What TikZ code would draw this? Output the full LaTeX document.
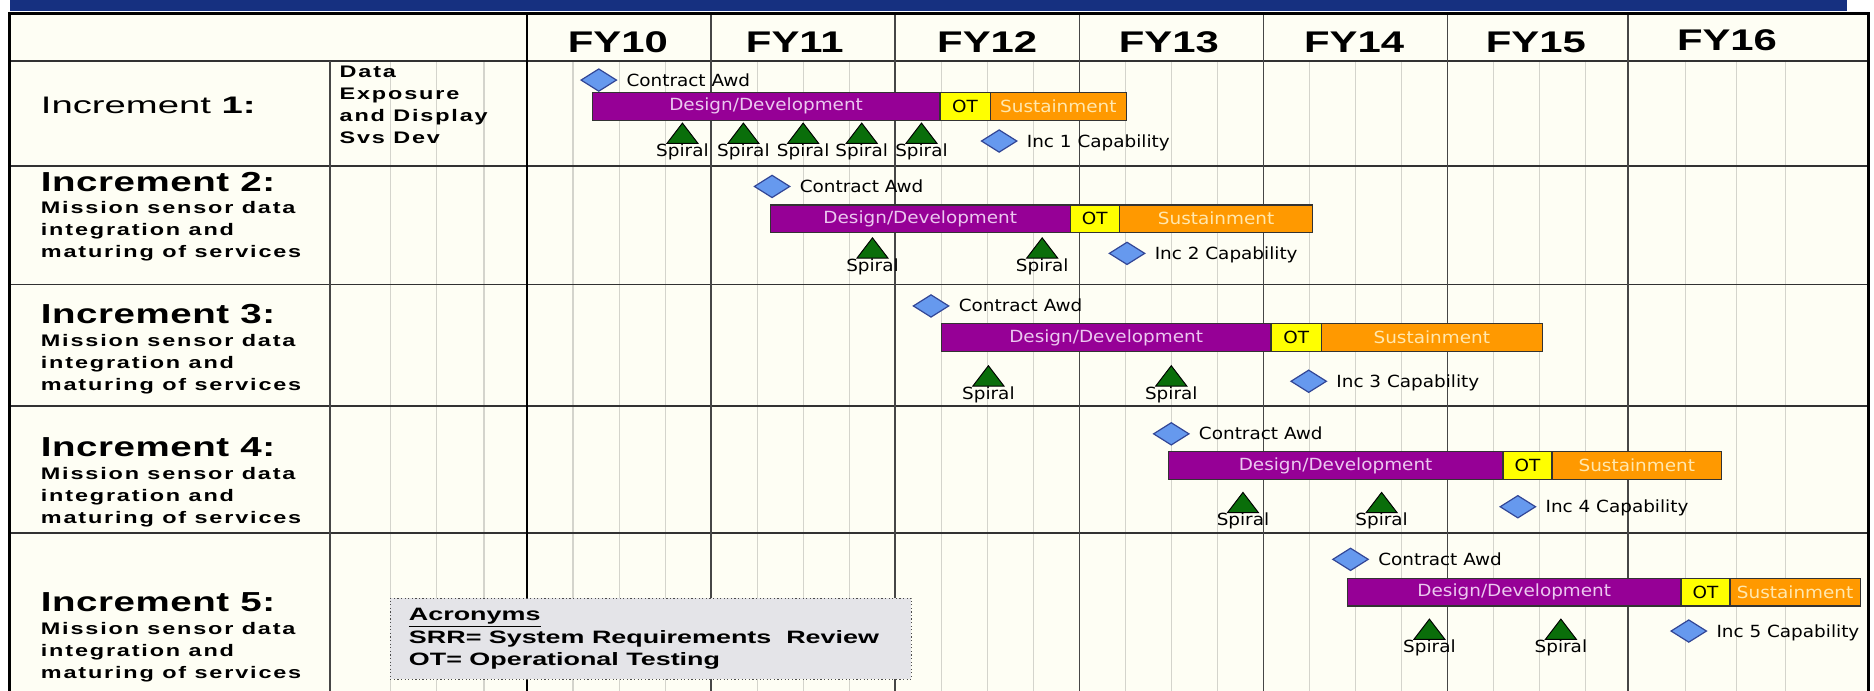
\documentclass[tikz,border=0pt]{standalone}
\usepackage{fontspec}
\usetikzlibrary{shapes.geometric}

\newfontfamily\yearfont[FakeStretch=1.4]{Liberation Sans}
\newfontfamily\incfont[FakeStretch=1.4,LetterSpace=2]{Liberation Sans}
\newfontfamily\firstfont[FakeStretch=1.6]{Liberation Sans}
\newfontfamily\descfont[FakeStretch=1.4,LetterSpace=11]{Liberation Sans}
\newfontfamily\notefont[FakeStretch=1.5]{Liberation Sans}
\newfontfamily\chartfont[FakeStretch=1.1]{DejaVu Sans}

\definecolor{band}{RGB}{22,48,128}
\definecolor{paper}{RGB}{254,254,244}
\definecolor{ddpurple}{RGB}{150,0,150}
\definecolor{ddtext}{RGB}{236,200,240}
\definecolor{otyellow}{RGB}{255,255,0}
\definecolor{sustorange}{RGB}{255,153,0}
\definecolor{susttext}{RGB}{255,232,175}
\definecolor{msblue}{RGB}{102,153,238}
\definecolor{msedge}{RGB}{50,70,150}
\definecolor{spgreen}{RGB}{10,110,10}
\definecolor{minorgrid}{RGB}{212,212,204}
\definecolor{majorgrid}{RGB}{70,70,70}
\definecolor{rowgrid}{RGB}{50,50,50}
\definecolor{notefill}{RGB}{228,228,232}

\begin{document}
\begin{tikzpicture}[x=1pt,y=-1pt,
  minor/.style={draw=minorgrid,line width=1},
  major/.style={draw=majorgrid,line width=1.2},
  rowline/.style={draw=rowgrid,line width=1.5},
  border/.style={draw=black,line width=2.5},
  yearlbl/.style={font=\yearfont\bfseries\fontsize{25}{28}\selectfont,anchor=base,inner sep=0},
  inclbl/.style={font=\incfont\bfseries\fontsize{23}{26}\selectfont,anchor=base west,inner sep=0},
  firstlbl/.style={font=\firstfont\fontsize{20}{24}\selectfont,anchor=base west,inner sep=0},
  desclbl/.style={font=\descfont\bfseries\fontsize{14}{16}\selectfont,anchor=base west,inner sep=0},
  notelbl/.style={font=\notefont\bfseries\fontsize{15}{17}\selectfont,anchor=base west,inner sep=0},
  chartlbl/.style={font=\chartfont\fontsize{14}{16}\selectfont,inner sep=0},
  milestone/.style={diamond,draw=msedge,fill=msblue,line width=1,minimum width=30,minimum height=19,inner sep=0},
  spiraltri/.style={draw=black,fill=spgreen,line width=0.8,line join=miter},
  phase/.style={draw=black!80,line width=1,minimum height=23,inner sep=0,anchor=west,
    font=\chartfont\fontsize{14}{16}\selectfont},
  ddbar/.style={phase,fill=ddpurple,text=ddtext},
  otbar/.style={phase,fill=otyellow,text=black},
  sustbar/.style={phase,fill=sustorange,text=susttext},
  notebox/.style={draw=black!70,dotted,line width=1,fill=notefill,anchor=north west,
    minimum width=436,minimum height=68,inner sep=0}
]
\useasboundingbox (0,0) rectangle (1568,578);

% page, title band and table ground
\fill[white] (0,0) rectangle (1568,578);
\fill[band] (8,0) rectangle (1545,9);
\fill[paper] (8,11) rectangle (1563,578);

% light quarter lines
\foreach \x in {327,365,405,1410,1453,1494}
  \draw[minor] (\x,51) -- (\x,578);
\foreach \s in {441,595,749,903,1057,1211}
  \foreach \k in {1,2,3}
    \draw[minor] ({\s+38.5*\k},51) -- ({\s+38.5*\k},578);

% row separators
\foreach \y in {51,139,238,340,446}
  \draw[rowline] (8,\y) -- (1563,\y);

% year boundaries and column separators
\foreach \x in {595,749,903,1057,1211,1362}
  \draw[major] (\x,11) -- (\x,578);
\draw[major] (276,51) -- (276,578);
\draw[draw=black,line width=2.2] (441,11) -- (441,578);

% outer frame
\draw[border] (8,578) -- (8,11) -- (1563,11) -- (1563,578);

% fiscal years
\foreach \n/\x/\y in {10/517/44,11/665/44,12/826/44,13/978/44,14/1133/44,15/1285/44,16/1445/42}
  \node[yearlbl] (fy\n) at (\x,\y) {FY\n};

% increment labels
\node[firstlbl] (inc1) at (34,95) {Increment \textbf{1:}};
\node[desclbl] (inc1a) at (284,65) {Data};
\node[desclbl] (inc1b) at (284,83.5) {Exposure};
\node[desclbl] (inc1c) at (284,102) {and Display};
\node[desclbl] (inc1d) at (284,120) {Svs Dev};

\foreach \r/\b/\p/\q/\s in {2/160/178.5/197/215.5, 3/271/290/308.5/327,
    4/382/401/419.5/438, 5/512/531/549.5/568}{
  \node[inclbl] (inc\r) at (34,\b) {Increment \r:};
  \node[desclbl] (inc\r a) at (34,\p) {Mission sensor data};
  \node[desclbl] (inc\r b) at (34,\q) {integration and};
  \node[desclbl] (inc\r c) at (34,\s) {maturing of services};
}

% phase bars
\foreach \r/\y/\a/\b/\c/\d in {1/89/495/786/828/942, 2/183/644/895/936/1098,
    3/282.5/787/1063/1105/1290, 4/389.5/977/1257/1298/1440, 5/495.5/1127/1406/1447/1556}{
  \pgfmathsetmacro\wdd{\b-\a}
  \pgfmathsetmacro\wot{\c-\b}
  \pgfmathsetmacro\wsu{\d-\c}
  \node[ddbar,minimum width=\wdd pt] (dd\r) at (\a,\y) {Design/Development};
  \node[otbar,minimum width=\wot pt] (ot\r) at (\b,\y) {OT};
  \node[sustbar,minimum width=\wsu pt] (sus\r) at (\c,\y) {Sustainment};
}

% contract award and capability milestones
\foreach \r/\x/\y/\u/\v in {1/501/67/836/118, 2/646/156/943/212, 3/779/256/1095/319,
    4/980/363/1270/424, 5/1130/468/1413/528}{
  \node[milestone] (ca\r) at (\x,\y) {};
  \node[chartlbl,anchor=base west] (cal\r) at ([xshift=23pt,yshift=-5pt]ca\r.center) {Contract Awd};
  \node[milestone] (cap\r) at (\u,\v) {};
  \node[chartlbl,anchor=base west] (capl\r) at ([xshift=23pt,yshift=-5pt]cap\r.center) {Inc \r\ Capability};
}

% spirals
\foreach \n/\x/\y in {1a/571/120, 1b/622/120, 1c/672/120, 1d/721/120, 1e/771/120,
    2a/730/216, 2b/872/216, 3a/827/323, 3b/980/323,
    4a/1040/429, 4b/1156/429, 5a/1196/535, 5b/1306/535}{
  \coordinate (sp\n) at (\x,\y);
  \draw[spiraltri] (sp\n) ++(-13,0) -- ++(26,0) -- ++(-13,-17) -- cycle;
  \node[chartlbl,anchor=base] (spl\n) at ([yshift=-11pt]sp\n) {Spiral};
}

% acronym legend
\node[notebox] (acr) at (326,500) {};
\node[notelbl] (acr1) at (342,519.5) {\underline{Acronyms}};
\node[notelbl] (acr2) at (342,538) {SRR= System Requirements\ \ Review};
\node[notelbl] (acr3) at (342,557) {OT= Operational Testing};
\end{tikzpicture}
\end{document}
